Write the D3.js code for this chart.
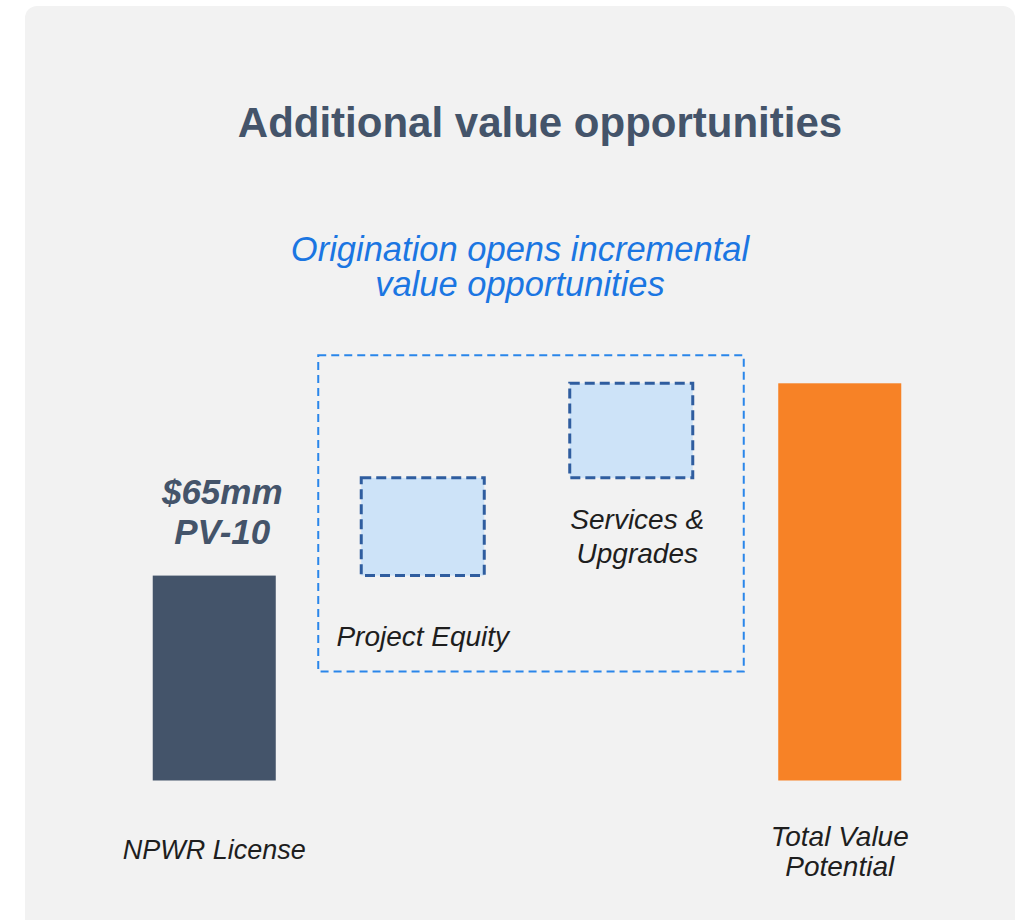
<!DOCTYPE html>
<html>
<head>
<meta charset="utf-8">
<script src="https://cdn.jsdelivr.net/npm/d3@7"></script>
<style>
  body { margin: 0; background: #ffffff; }
  text { font-family: "Liberation Sans", Arial, Helvetica, sans-serif; }
</style>
</head>
<body>
<div id="chart"></div>
<script>
// chart values
const categories = ["NPWR License", "Project Equity", "Services & Upgrades", "Total Value Potential"];
const values = [65, 31, 30, 126];
const kinds = ["base", "step", "step", "total"];
const categoryLines = [["NPWR License"], ["Project Equity"], ["Services &", "Upgrades"], ["Total Value", "Potential"]];
const valueLabel = ["$65mm", "PV-10"];
const title = "Additional value opportunities";
const subtitle = ["Origination opens incremental", "value opportunities"];

const width = 1021, height = 920;

let svg = d3.select("#chart")
    .append("svg")
    .attr("width", width)
    .attr("height", height);

// card
svg.append("rect")
    .attr("x", 25).attr("y", 6)
    .attr("width", 990).attr("height", 940)
    .attr("rx", 12)
    .style("fill", "#f2f2f2");

svg.append("text")
    .attr("x", 540).attr("y", 137)
    .attr("text-anchor", "middle")
    .style("font-size", "42px")
    .style("font-weight", "bold")
    .style("fill", "#44546a")
    .text(title);

svg.selectAll(".subtitle")
    .data(subtitle)
    .enter()
    .append("text")
    .attr("class", "subtitle")
    .attr("x", 520)
    .attr("y", (d, i) => 261 + i * 35)
    .attr("text-anchor", "middle")
    .style("font-size", "34.5px")
    .style("font-style", "italic")
    .style("fill", "#1b76e2")
    .text(d => d);

// waterfall geometry
let running = 0;
const bars = categories.map(function (c, i) {
    let lo, hi;
    if (kinds[i] == "total") { lo = 0; hi = values[i]; }
    else { lo = running; hi = running + values[i]; running = hi; }
    return { name: c, kind: kinds[i], lo: lo, hi: hi, lines: categoryLines[i] };
});

let x = d3.scaleBand()
    .domain(categories)
    .range([110, 944])
    .paddingInner(0.41)
    .paddingOuter(0.205);

let y = d3.scaleLinear()
    .domain([0, d3.max(bars, d => d.hi)])
    .range([780.5, 383.3]);

// dashed frame round the incremental steps
let steps = bars.filter(d => d.kind == "step");
let fx0 = x(steps[0].name) - 43,
    fx1 = x(steps[steps.length - 1].name) + x.bandwidth() + 51,
    fy0 = y(d3.max(steps, d => d.hi)) - 28,
    fy1 = y(d3.min(steps, d => d.lo)) + 96;
svg.append("rect")
    .attr("x", fx0).attr("y", fy0)
    .attr("width", fx1 - fx0).attr("height", fy1 - fy0)
    .style("fill", "none")
    .style("stroke", "#2a86ea")
    .style("stroke-width", 2)
    .style("stroke-dasharray", "8,5");

svg.selectAll(".bar")
    .data(bars)
    .enter()
    .append("rect")
    .attr("class", "bar")
    .attr("x", d => x(d.name))
    .attr("y", d => y(d.hi))
    .attr("width", x.bandwidth())
    .attr("height", d => y(d.lo) - y(d.hi))
    .style("fill", d => d.kind == "base" ? "#44546a" : d.kind == "total" ? "#f78226" : "#cde3f8")
    .style("stroke", d => d.kind == "step" ? "#2f5d9f" : "none")
    .style("stroke-width", 3)
    .style("stroke-dasharray", d => d.kind == "step" ? "10,5" : null);

// category labels: below each bar / box
function labelTop(d) {
    if (d.kind == "step") return y(d.lo) + (d.lines.length > 1 ? 51 : 70);
    if (d.kind == "total") return y(d.lo) + 65;
    return y(d.lo) + 78;
}
function labelShift(d) {
    return d.kind == "step" && d.lines.length > 1 ? 6 : 0;
}
bars.forEach(function (d) {
    svg.append("g")
        .selectAll("text")
        .data(d.lines)
        .enter()
        .append("text")
        .attr("x", x(d.name) + x.bandwidth() / 2 + labelShift(d))
        .attr("y", (t, i) => labelTop(d) + i * (d.kind == "step" ? 34 : 30))
        .attr("text-anchor", "middle")
        .style("font-size", d.kind == "step" ? "28px" : d.kind == "total" ? "28px" : "27px")
        .style("font-style", "italic")
        .style("fill", "#1e1e1e")
        .text(t => t);
});

// value label above the base bar
let base = bars[0];
svg.selectAll(".vlabel")
    .data(valueLabel)
    .enter()
    .append("text")
    .attr("class", "vlabel")
    .attr("x", x(base.name) + x.bandwidth() / 2 + 8)
    .attr("y", (d, i) => y(base.hi) - 72 + i * 40)
    .attr("text-anchor", "middle")
    .style("font-size", "35px")
    .style("font-weight", "bold")
    .style("font-style", "italic")
    .style("fill", "#44546a")
    .text(d => d);
</script>
</body>
</html>
